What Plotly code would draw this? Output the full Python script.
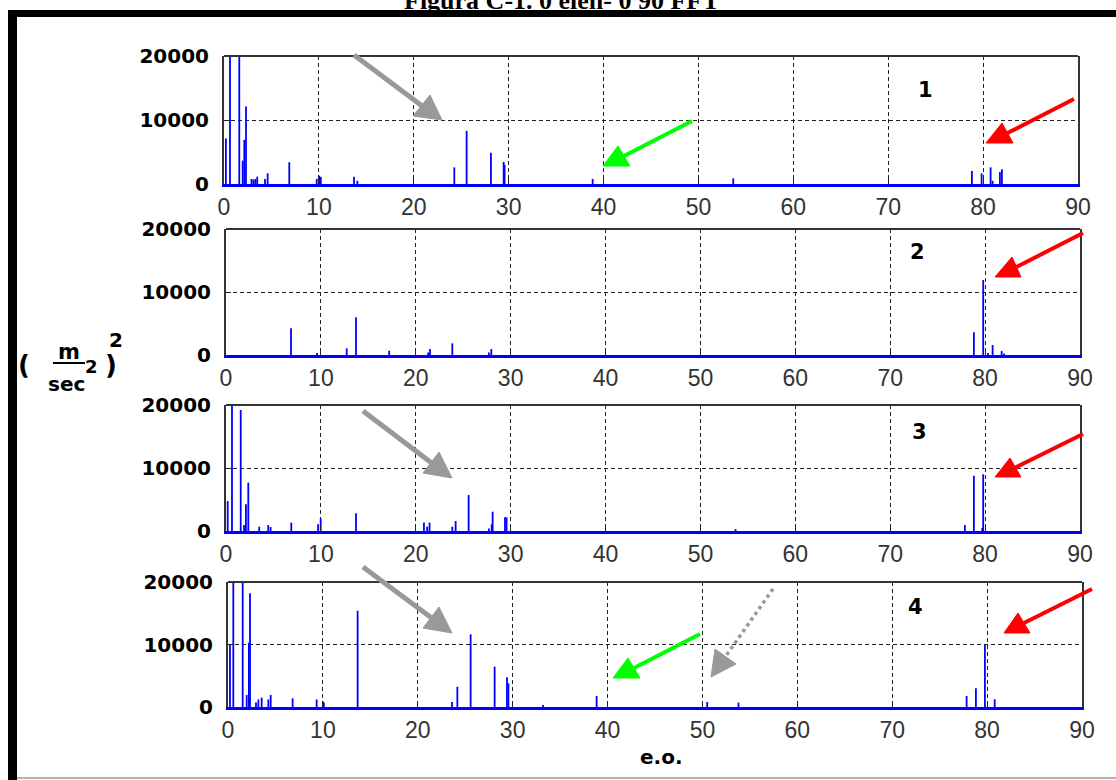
import plotly.graph_objects as go

W, H = 1116, 780

# ---------------- data ----------------
X_RANGE = [0, 90]
Y_RANGE = [0, 20000]
X_TICKS = list(range(0, 91, 10))
Y_TICKS = [0, 10000, 20000]
PANEL_LABELS = ["1", "2", "3", "4"]
X_TITLE = "e.o."
TITLE = "Figura C-1. 0 elen- 0 90 FFT"

# panel 1 : order (e.o.) and amplitude
F1 = [0.2, 0.63, 1.61, 1.97, 2.14, 2.32, 2.9, 3.1, 3.3, 3.5, 4.32, 4.6, 6.88, 9.77, 10.05, 10.2,
      13.7, 14.05, 24.27, 25.57, 28.13, 29.47, 29.57, 38.85, 53.67, 78.82, 79.84, 80.79, 81.0,
      81.77, 81.98]
A1 = [7100, 40000, 40000, 3650, 6900, 12100, 780, 700, 780, 1150, 800, 1670, 3400, 800, 1300, 1100,
      1150, 500, 2600, 8300, 4900, 3450, 3000, 800, 880, 2030, 1670, 2600, 500,
      1880, 2300]

# panel 2
F2 = [6.85, 9.6, 12.72, 13.7, 17.2, 21.3, 21.5, 23.85, 27.7, 27.96, 78.82, 79.8, 80.3, 80.79,
      81.74, 82.0]
A2 = [4230, 300, 1060, 5980, 690, 400, 950, 1850, 400, 950, 3600, 11900, 300, 1590,
      630, 250]

# panel 3
F3 = [0.18, 0.63, 1.55, 1.9, 2.1, 2.35, 3.5, 4.45, 4.7, 6.88, 9.7, 9.98, 13.7, 20.86, 21.2,
      21.45, 23.85, 24.2, 25.57, 27.7, 28.0, 28.1, 29.4, 29.57, 53.7, 77.87, 78.82, 79.7, 79.8]
A3 = [4760, 40000, 19200, 950, 4230, 7670, 690, 950, 630, 1330, 1060, 2010, 2800, 1330, 690,
      1330, 690, 1590, 5710, 400, 1060, 3070, 2170, 2170, 300, 950, 8780, 500, 9000]

# panel 4
F4 = [0.21, 0.56, 1.55, 1.97, 2.2, 2.32, 2.95, 3.2, 3.55, 4.25, 4.5, 6.81, 9.34, 10.0, 10.1,
      13.66, 23.6, 24.17, 25.57, 28.1, 29.4, 29.55, 33.2, 38.85, 50.5, 53.8, 77.84, 78.82,
      79.77, 80.8]
A4 = [10030, 40000, 40000, 1920, 10300, 18200, 700, 1200, 1500, 1200, 1920, 1390, 1200, 900, 700,
      15400, 800, 3250, 11630, 6450, 4750, 3800, 300, 1760, 800, 700, 1760, 2990,
      9920, 1230]

PANELS = [(F1, A1), (F2, A2), (F3, A3), (F4, A4)]

# ---------------- layout geometry (pixels) ----------------
BOXES = [  # left, top, right, bottom
    (224, 56, 1078, 184),
    (226, 229, 1080, 355),
    (226, 405, 1080, 531),
    (228, 582, 1082, 707),
]
LABEL_POS = [(925, 90), (917, 252), (919, 432), (915, 607)]


def px(x, y):
    return x / W, 1 - y / H


fig = go.Figure()
layout = dict(
    width=W, height=H, autosize=False,
    margin=dict(l=0, r=0, t=0, b=0, pad=0),
    paper_bgcolor="white", plot_bgcolor="white",
    showlegend=False,
)
shapes = []
annotations = []

for i, ((fr, am), box) in enumerate(zip(PANELS, BOXES)):
    n = "" if i == 0 else str(i + 1)
    xs, ys = [], []
    for f, a in zip(fr, am):
        xs += [f, f, None]
        ys += [0, a, None]
    fig.add_trace(go.Scatter(x=xs, y=ys, mode="lines", xaxis="x" + n, yaxis="y" + n,
                             line=dict(color="#0000ff", width=1.8), hoverinfo="skip"))
    l, t, r, b = box
    layout["xaxis" + n] = dict(
        domain=[l / W, r / W], anchor="y" + n, range=X_RANGE, tickvals=X_TICKS,
        ticktext=[str(v) for v in X_TICKS], automargin=False,
        showgrid=True, gridcolor="#222", gridwidth=1.3, griddash="4px,3px",
        showline=True, linecolor="#0000ff", linewidth=3, mirror=False,
        ticks="inside", ticklen=5, tickcolor="#222", tickwidth=1.3,
        tickfont=dict(family="Liberation Sans", size=23, color="#333"),
        ticklabelstandoff=0, zeroline=False, fixedrange=True,
    )
    layout["yaxis" + n] = dict(
        domain=[1 - b / H, 1 - t / H], anchor="x" + n, range=Y_RANGE, tickvals=Y_TICKS,
        ticktext=[str(v) for v in Y_TICKS], automargin=False,
        showgrid=True, gridcolor="#222", gridwidth=1.3, griddash="4px,3px",
        showline=True, linecolor="#333", linewidth=2, mirror=True,
        ticks="inside", ticklen=5, tickcolor="#222", tickwidth=1.3,
        tickfont=dict(family="DejaVu Sans", size=20, color="black", weight="bold"),
        ticklabelstandoff=9, zeroline=False, fixedrange=True,
    )
    # top border of the axes box
    shapes.append(dict(type="line", xref="x" + n + " domain", yref="y" + n + " domain",
                       x0=0, x1=1, y0=1, y1=1, line=dict(color="#333", width=2)))
    lx, ly = px(*LABEL_POS[i])
    annotations.append(dict(text=PANEL_LABELS[i], x=lx, y=ly, xref="paper", yref="paper",
                            showarrow=False, xanchor="center", yanchor="middle",
                            font=dict(family="DejaVu Sans", size=21, color="black", weight="bold")))

# ---------------- outer frame ----------------
x0, y0 = px(8, 10); x1, y1 = px(17, H)
shapes.append(dict(type="rect", xref="paper", yref="paper", x0=x0, y0=y1, x1=x1, y1=y0,
                   fillcolor="black", line=dict(width=0)))
x0, y0 = px(8, 10); x1, y1 = px(W, 17)
shapes.append(dict(type="rect", xref="paper", yref="paper", x0=x0, y0=y1, x1=x1, y1=y0,
                   fillcolor="black", line=dict(width=0)))
x0, y0 = px(17, 778); x1, _ = px(W, 778)
shapes.append(dict(type="line", xref="paper", yref="paper", x0=x0, y0=y0, x1=x1, y1=y0,
                   line=dict(color="#999", width=1.5)))

# ---------------- title (cut at top) ----------------
tx, ty = px(562, 0)
annotations.append(dict(text="<b>" + TITLE + "</b>", x=tx, y=ty, xref="paper", yref="paper",
                        showarrow=False, xanchor="center", yanchor="middle",
                        font=dict(family="Liberation Serif", size=26, color="black")))

# ---------------- x title ----------------
ex, ey = px(661, 757)
annotations.append(dict(text=X_TITLE, x=ex, y=ey, xref="paper", yref="paper", showarrow=False,
                        xanchor="center", yanchor="middle",
                        font=dict(family="DejaVu Sans", size=20, color="black", weight="bold")))

# ---------------- y label  ( m / sec^2 )^2 ----------------
YL_FONT = dict(family="DejaVu Sans", color="black", weight="bold")
for txt, (ax_, ay_), size in [("(", (24, 365), 26), ("m", (69, 352), 21), ("sec", (66, 384), 20),
                              ("2", (91, 366), 18), (")", (111, 365), 26), ("2", (116, 340), 20)]:
    a, b = px(ax_, ay_)
    annotations.append(dict(text=txt, x=a, y=b, xref="paper", yref="paper", showarrow=False,
                            xanchor="center", yanchor="middle", font=dict(size=size, **YL_FONT)))
a0, b0 = px(53, 363); a1, _ = px(85, 363)
shapes.append(dict(type="line", xref="paper", yref="paper", x0=a0, y0=b0, x1=a1, y1=b0,
                   line=dict(color="black", width=2)))

# ---------------- arrows ----------------
GRAY, GREEN, RED = "#999999", "#00ff00", "#ff0000"
ARROWS = [  # tail, tip, corner1, corner2, color, width, dash
    ((354, 55), (442, 120), (413, 116), (430, 95), GRAY, 5, "solid"),
    ((692, 121), (603, 166), (618, 146), (630, 166), GREEN, 4, "solid"),
    ((1074, 99), (986, 143), (1002, 123), (1013, 143), RED, 4, "solid"),
    ((1083, 233), (995, 277), (1012, 257), (1021, 277), RED, 4, "solid"),
    ((363, 411), (452, 478), (423, 473), (439, 452), GRAY, 5, "solid"),
    ((1083, 434), (995, 477), (1010, 458), (1021, 477), RED, 4, "solid"),
    ((363, 567), (452, 633), (423, 628), (439, 607), GRAY, 5, "solid"),
    ((700, 634), (613, 678), (628, 658), (640, 678), GREEN, 4, "solid"),
    ((773, 589), (711, 677), (715, 649), (736, 664), GRAY, 3.5, "dot"),
    ((1092, 589), (1004, 633), (1018, 613), (1030, 633), RED, 4, "solid"),
]
for tail, tip, c1, c2, col, w, dash in ARROWS:
    mid = ((c1[0] + c2[0]) / 2, (c1[1] + c2[1]) / 2)
    ax0, ay0 = px(*tail); ax1, ay1 = px(*mid)
    shapes.append(dict(type="line", xref="paper", yref="paper", x0=ax0, y0=ay0, x1=ax1, y1=ay1,
                       line=dict(color=col, width=w, dash=dash)))
    pts = [px(*tip), px(*c1), px(*c2)]
    path = "M {} {} L {} {} L {} {} Z".format(*[v for p in pts for v in p])
    shapes.append(dict(type="path", xref="paper", yref="paper", path=path,
                       fillcolor=col, line=dict(color=col, width=1)))

layout["shapes"] = shapes
layout["annotations"] = annotations
fig.update_layout(**layout)
fig.write_html("out.html", config={"displayModeBar": False},
               post_script="document.body.style.margin='0px';document.body.style.overflow='hidden';")
